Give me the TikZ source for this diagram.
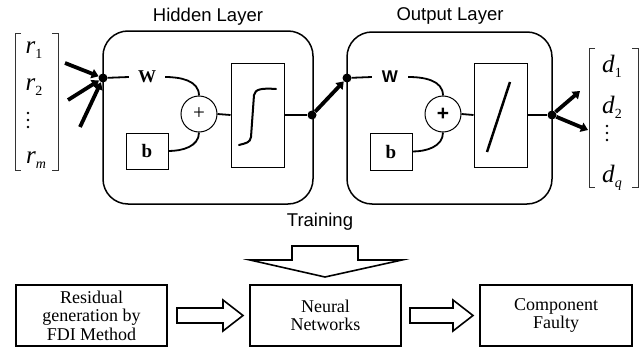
\documentclass[tikz,border=0pt]{standalone}
\usepackage{fontspec}
\setmainfont{Liberation Serif}
\newfontfamily\lsans{Liberation Sans}
\usetikzlibrary{arrows.meta,calc}
\newcommand\vsub[2]{\textit{#1}\raisebox{-5pt}{\fontsize{14}{14}\selectfont #2}}
\begin{document}
\begin{tikzpicture}[x=1pt,y=-1pt,
  layerbox/.style={draw,line width=1.5pt,rounded corners=25pt,inner sep=0pt},
  plainbox/.style={draw,line width=1pt,inner sep=0pt},
  sumnode/.style={draw,circle,line width=1pt,minimum size=36pt,inner sep=0pt,font=\fontsize{21}{21}\selectfont},
  junction/.style={circle,fill,minimum size=9pt,inner sep=0pt},
  title/.style={font=\lsans\fontsize{18.5}{21}\selectfont},
  vec/.style={font=\fontsize{25}{26}\selectfont,anchor=base,inner sep=0pt},
  wire/.style={line width=1.8pt},
  fatarrow/.style={line width=3.8pt,-{Triangle[length=7pt,width=9.5pt]}},
  blockbox/.style={draw,line width=2pt,inner sep=0pt,align=center,font=\fontsize{18}{18.5}\selectfont},
  hollow/.style={draw,line width=1.6pt,line join=miter}
]
\useasboundingbox (0,0) rectangle (643,348);

% ---------- titles ----------
\node[title] (ht) at (208,17) {Hidden Layer};
\node[title] (ot) at (450,16) {Output Layer};

% ---------- layer boxes ----------
\node[layerbox,minimum width=210pt,minimum height=173pt] (hid) at (208,117.5) {};
\node[layerbox,minimum width=205pt,minimum height=172pt] (out) at (449.5,118) {};

% ---------- input vector ----------
\draw[line width=0.9pt,black!80] (21,33) -- (15,33) -- (15,170) -- (21,170);
\draw[line width=0.9pt,black!80] (52,33) -- (58,33) -- (58,170) -- (52,170);
\node[vec] (r1) at (34,53) {\vsub{r}{1}};
\node[vec] (r2) at (34,90) {\vsub{r}{2}};
\node[vec] (rm) at (36,163) {\vsub{r}{\textit{m}}};
\foreach \yy in {113,120,127} \fill (28,\yy) circle (1.4pt);

% ---------- output vector ----------
\draw[line width=0.9pt,black!80] (595,48) -- (589,48) -- (589,187) -- (595,187);
\draw[line width=0.9pt,black!80] (632,48) -- (638,48) -- (638,187) -- (632,187);
\node[vec] (d1) at (612,72) {\vsub{d}{1}};
\node[vec] (d2) at (612,113) {\vsub{d}{2}};
\node[vec] (dq) at (612,182) {\vsub{d}{\textit{q}}};
\foreach \yy in {126,133,140} \fill (607,\yy) circle (1.4pt);

% ---------- hidden layer internals ----------
\node[junction] (din) at (103,78) {};
\coordinate (a1) at (65,63);
\coordinate (a2) at (68,100);
\coordinate (a3) at (80,127);
\draw[fatarrow] (a1) -- (din);
\draw[fatarrow] (a2) -- (din);
\draw[fatarrow] (a3) -- (din);

\node[font=\bfseries\fontsize{18}{18}\selectfont,inner ysep=0pt,inner xsep=9pt] (w1) at (147,77) {W};
\node[sumnode] (c1) at (199,114) {+};
\node[plainbox,minimum width=42pt,minimum height=36pt,font=\bfseries\fontsize{19}{19}\selectfont] (b1) at (147,151) {b};
\node[plainbox,minimum width=53pt,minimum height=104pt] (s1) at (257.5,115) {};
\node[junction] (dh) at (312,115) {};

\draw[wire] (din) -- (w1.west);
\draw[wire] (w1.east) to[out=0,in=90] (c1.north);
\draw[wire] (b1.east) to[out=0,in=-90] (c1.south);
\draw[wire] (c1.east) -- (s1.west);
\draw[wire] (s1.east) -- (dh);
\draw[line width=2pt,line cap=round] (239,145) .. controls (246,143) and (250,143) .. (251,137) -- (254,95) .. controls (255,89) and (262,88) .. (276,89);

% ---------- link between layers ----------
\node[junction] (dout) at (347,78) {};
\draw[fatarrow] (dh) -- (dout);

% ---------- output layer internals ----------
\node[font=\lsans\bfseries\fontsize{17}{17}\selectfont,inner ysep=0pt,inner xsep=10pt] (w2) at (390,77) {W};
\node[sumnode,font=\lsans\bfseries\fontsize{21}{21}\selectfont] (c2) at (443,114) {+};
\node[plainbox,minimum width=42pt,minimum height=37pt,font=\bfseries\fontsize{19}{19}\selectfont] (b2) at (391,151.5) {b};
\node[plainbox,minimum width=53pt,minimum height=104pt] (l2) at (500.5,115) {};
\node[junction] (dy) at (552,115) {};

\draw[wire] (dout) -- (w2.west);
\draw[wire] (w2.east) to[out=0,in=90] (c2.north);
\draw[wire] (b2.east) to[out=0,in=-90] (c2.south);
\draw[wire] (c2.east) -- (l2.west);
\draw[wire] (l2.east) -- (dy);
\draw[line width=2.5pt] (487,152) -- (510,82);

\coordinate (o1) at (580,91);
\coordinate (o2) at (588,130);
\draw[fatarrow] (dy) -- (o1);
\draw[fatarrow] (dy) -- (o2);

% ---------- training & block diagram ----------
\node[title] (tr) at (320,222) {Training};

\node[blockbox,minimum width=151pt,minimum height=61pt] (res) at (91.5,315.5) {Residual\\generation by\\FDI Method};
\node[blockbox,minimum width=151pt,minimum height=61pt] (nn) at (325.5,315.5) {Neural\\Networks};
\node[blockbox,minimum width=152pt,minimum height=61pt] (cf) at (556,315.5) {Component\\Faulty};

\draw[hollow] (292,246) -- (358,246) -- (358,260) -- (402,260) -- (325,277) -- (250,260) -- (292,260) -- cycle;
\draw[hollow] (177,308) -- (223,308) -- (223,300) -- (243,315.5) -- (223,331) -- (223,323) -- (177,323) -- cycle;
\draw[hollow] (410,308) -- (453,308) -- (453,300) -- (473,315.5) -- (453,331) -- (453,323) -- (410,323) -- cycle;
\end{tikzpicture}
\end{document}
